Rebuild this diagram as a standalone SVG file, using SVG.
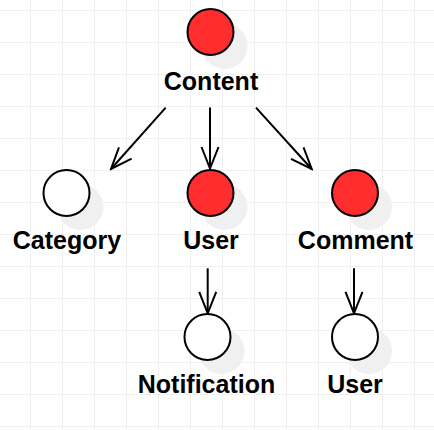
<svg xmlns="http://www.w3.org/2000/svg" width="434" height="430" viewBox="0 0 434 430">
<defs>
<pattern id="grid" x="0" y="0" width="32" height="32" patternUnits="userSpaceOnUse" patternTransform="translate(30 10)">
<path d="M0.5 0 V32 M0 0.5 H32" stroke="#f0f0f0" stroke-width="1" fill="none"/>
</pattern>
<marker id="arr" viewBox="-24 -10 26 20" refX="0" refY="0" markerWidth="26" markerHeight="20" markerUnits="userSpaceOnUse" orient="auto">
<path d="M-21.5 -8.5 L0 0 L-21.5 8.5" fill="none" stroke="#000" stroke-width="2"/>
</marker>
</defs>
<style>
.sh{fill:#f0f0f0}
.c{stroke:#000;stroke-width:2}
.red{fill:#ff2d2d}
.white{fill:#fff}
.lbl{font-family:"Liberation Sans",Arial,sans-serif;font-weight:bold;font-size:25px;text-anchor:middle;fill:#000}
.e{stroke:#000;stroke-width:2;fill:none;marker-end:url(#arr)}
</style>
<rect width="434" height="430" fill="#fff"/>
<rect width="434" height="430" fill="url(#grid)"/>
<g id="content">
<circle class="sh" cx="224.5" cy="46" r="23"/>
<circle class="c red" cx="210.5" cy="32" r="23"/>
<text class="lbl" x="211" y="90">Content</text>
</g>
<g id="category">
<circle class="sh" cx="80.5" cy="207" r="23"/>
<circle class="c white" cx="66.5" cy="193" r="23"/>
<text class="lbl" x="67" y="249">Category</text>
</g>
<g id="user1">
<circle class="sh" cx="224.5" cy="207" r="23"/>
<circle class="c red" cx="210.5" cy="193" r="23"/>
<text class="lbl" x="211" y="249">User</text>
</g>
<g id="comment">
<circle class="sh" cx="369" cy="207" r="23"/>
<circle class="c red" cx="355" cy="193" r="23"/>
<text class="lbl" x="355.5" y="249">Comment</text>
</g>
<g id="notification">
<circle class="sh" cx="221.5" cy="351" r="23"/>
<circle class="c white" cx="207.5" cy="337" r="23"/>
<text class="lbl" x="206.5" y="393">Notification</text>
</g>
<g id="user2">
<circle class="sh" cx="369" cy="351" r="23"/>
<circle class="c white" cx="355" cy="337" r="23"/>
<text class="lbl" x="355" y="393">User</text>
</g>
<g id="connectors">
<line class="e" x1="165.7" y1="107.7" x2="111" y2="169"/>
<line class="e" x1="210" y1="107.5" x2="210" y2="168.5"/>
<line class="e" x1="256" y1="107.7" x2="311.7" y2="169"/>
<line class="e" x1="207.7" y1="268.3" x2="207.7" y2="313.3"/>
<line class="e" x1="354" y1="268.3" x2="354" y2="313.3"/>
</g>
</svg>
